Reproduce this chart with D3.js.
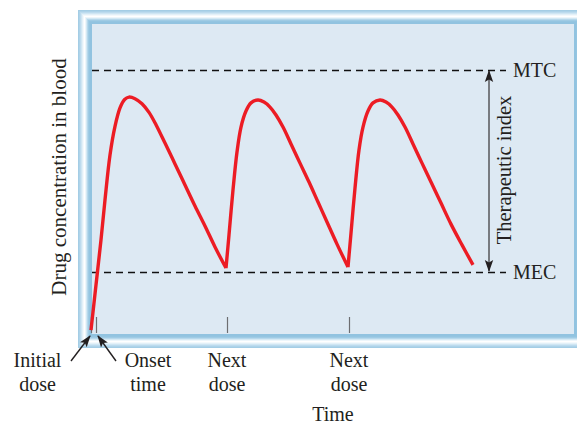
<!DOCTYPE html>
<html>
<head>
<meta charset="utf-8">
<script src="https://cdn.jsdelivr.net/npm/d3@7"></script>
<style>
  html, body { margin: 0; padding: 0; background: #fff; }
  svg { display: block; }
  text { font-family: "Liberation Serif", "DejaVu Serif", serif; fill: #231f20; }
</style>
</head>
<body>
<svg id="chart" width="577" height="424"></svg>
<script>
// ---- data (time in arbitrary units, concentration as % of MTC) ----
const segment1 = [
  [0, 1.1], [1.25, 18.3], [2.5, 35.4], [3.5, 50.6], [4.75, 67.7], [6, 78.6], [7.25, 85.6],
  [8.4, 88.8], [9.5, 89.7], [11, 89.1], [12.75, 87.2], [14.5, 83.9], [16.25, 79.2], [18.5, 72.2],
  [21, 64.3], [23.5, 56.3], [26, 48.3], [28.5, 40.7], [31, 32.7], [33.75, 24.7]
];
const segment2 = [
  [33.75, 24.7], [34.5, 37.3], [35.5, 54.4], [36.5, 68.8], [37.5, 78.3], [38.75, 84.4],
  [40, 87.5], [41.75, 88.6], [43.25, 87.8], [44.75, 85.9], [46.25, 82.9], [48, 78.3],
  [50, 71.9], [52.25, 64.6], [54.5, 57.4], [56.75, 49.8], [59, 42.2], [61.5, 33.8],
  [64.25, 25.1]
];
const segment3 = [
  [64.25, 25.1], [65, 38.0], [66, 55.1], [67, 69.6], [68, 78.3], [69.25, 84.4],
  [70.5, 87.5], [72.25, 88.6], [73.75, 87.8], [75.25, 85.9], [76.75, 82.9], [78.5, 78.3],
  [80.5, 71.9], [82.75, 64.6], [85, 57.4], [87.5, 49.4], [90, 41.4], [92.75, 33.5],
  [95.5, 25.9]
];
const doseTimes = [0, 34, 64.5];
const onsetTime = 1.25;
const MTC = 100;
const MEC = 23.2;
const levelLabels = ["MTC", "MEC"];
const nextDoseLabels = [["Next", "dose"], ["Next", "dose"]];
const initialLabel = ["Initial", "dose"];
const onsetLabel = ["Onset", "time"];
const xTitle = "Time";
const yTitle = "Drug concentration in blood";
const indexLabel = "Therapeutic index";

// ---- layout ----
const svg = d3.select("#chart");
const panel = { x0: 92, y0: 24, x1: 574, y1: 334 };
const x = d3.scaleLinear().domain([0, 120]).range([91, 571]);
const y = d3.scaleLinear().domain([0, 100]).range([333, 70]);
const crisp = v => Math.round(v) + 0.5;

const defs = svg.append("defs");
function arrowMarker(id) {
  defs.append("marker")
    .attr("id", id).attr("viewBox", "0 -5 12 10")
    .attr("refX", 11).attr("refY", 0)
    .attr("markerWidth", 12).attr("markerHeight", 10)
    .attr("markerUnits", "userSpaceOnUse")
    .attr("orient", "auto-start-reverse")
    .append("path").attr("d", "M0,-4.2L12,0L0,4.2L2.5,0Z").attr("fill", "#231f20");
}
arrowMarker("arr");

// ---- frame (bevelled light-blue border) ----
const stripeColors = ["#a4cde5", "#aed3e9", "#bddbee", "#cfe6f3", "#e3f0f8", "#f3f9fc", "#ffffff",
  "#eef6fb", "#d4e9f4", "#b6d8ec", "#9fcbe4", "#94c5e1", "#91c3e0", "#91c3e0"];
const frameOuter = { x0: 78, y0: 10, x1: 588, y1: 348 };
svg.append("g").selectAll("rect").data(stripeColors).join("rect")
  .attr("x", (d, i) => frameOuter.x0 + i + 0.5)
  .attr("y", (d, i) => frameOuter.y0 + i + 0.5)
  .attr("width", (d, i) => frameOuter.x1 - frameOuter.x0 - 2 * i - 1)
  .attr("height", (d, i) => frameOuter.y1 - frameOuter.y0 - 2 * i - 1)
  .attr("fill", "none").attr("stroke", d => d).attr("stroke-width", 1);

svg.append("rect")
  .attr("x", panel.x0).attr("y", panel.y0)
  .attr("width", panel.x1 - panel.x0).attr("height", panel.y1 - panel.y0)
  .attr("fill", "#dde9f3");

// ---- dose ticks ----
const tickTimes = [doseTimes[0], onsetTime].concat(doseTimes.slice(1));
svg.append("g").selectAll("line").data(tickTimes).join("line")
  .attr("x1", d => crisp(x(d))).attr("x2", d => crisp(x(d)))
  .attr("y1", 317).attr("y2", 333)
  .attr("stroke", "#6d6e71").attr("stroke-width", 1.2);

// ---- reference levels ----
const levels = [MTC, MEC];
svg.append("g").selectAll("line").data(levels).join("line")
  .attr("x1", panel.x0).attr("x2", 506)
  .attr("y1", d => crisp(y(d))).attr("y2", d => crisp(y(d)))
  .attr("stroke", "#111").attr("stroke-width", 1.3)
  .attr("stroke-dasharray", "7,5");

svg.append("g").selectAll("text").data(levels).join("text")
  .attr("x", 513).attr("y", d => y(d) + 7)
  .attr("font-size", 20)
  .text((d, i) => levelLabels[i]);

// therapeutic index double arrow
svg.append("line")
  .attr("x1", 489).attr("x2", 489)
  .attr("y1", y(MTC) + 1).attr("y2", y(MEC) - 1)
  .attr("stroke", "#4d4d4f").attr("stroke-width", 1.4)
  .attr("marker-start", "url(#arr)").attr("marker-end", "url(#arr)");

svg.append("text")
  .attr("transform", `translate(511,${(y(MTC) + y(MEC)) / 2 - 1}) rotate(-90)`)
  .attr("text-anchor", "middle").attr("font-size", 20.5)
  .text(indexLabel);

// ---- concentration curve ----
const line = d3.line().x(d => x(d[0])).y(d => y(d[1])).curve(d3.curveCatmullRom.alpha(0.5));
const segments = [segment1, segment2, segment3];
svg.append("path")
  .attr("d", segments.map(s => line(s)).join(""))
  .attr("fill", "none").attr("stroke", "#ec1c24").attr("stroke-width", 3.4)
  .attr("stroke-linejoin", "round").attr("stroke-linecap", "butt");

// ---- axis titles ----
svg.append("text")
  .attr("transform", "translate(66,177) rotate(-90)")
  .attr("text-anchor", "middle").attr("font-size", 21)
  .text(yTitle);

svg.append("text")
  .attr("x", 333).attr("y", 421)
  .attr("text-anchor", "middle").attr("font-size", 20)
  .text(xTitle);

// ---- dose annotations ----
function twoLine(cx, lines) {
  const t = svg.append("text").attr("text-anchor", "middle").attr("font-size", 20);
  lines.forEach((s, i) => t.append("tspan").attr("x", cx).attr("y", 367 + i * 24).text(s));
}
nextDoseLabels.forEach((lbl, i) => twoLine(x(doseTimes[i + 1]), lbl));
twoLine(x(doseTimes[0]) - 53.5, initialLabel);
twoLine(x(onsetTime) + 52, onsetLabel);

// arrows to initial dose and onset
svg.append("line")
  .attr("x1", 71).attr("y1", 361).attr("x2", x(doseTimes[0]) - 1).attr("y2", 336)
  .attr("stroke", "#231f20").attr("stroke-width", 1.4).attr("marker-end", "url(#arr)");
svg.append("line")
  .attr("x1", 116).attr("y1", 361).attr("x2", x(onsetTime) + 2).attr("y2", 336)
  .attr("stroke", "#231f20").attr("stroke-width", 1.4).attr("marker-end", "url(#arr)");
</script>
</body>
</html>
